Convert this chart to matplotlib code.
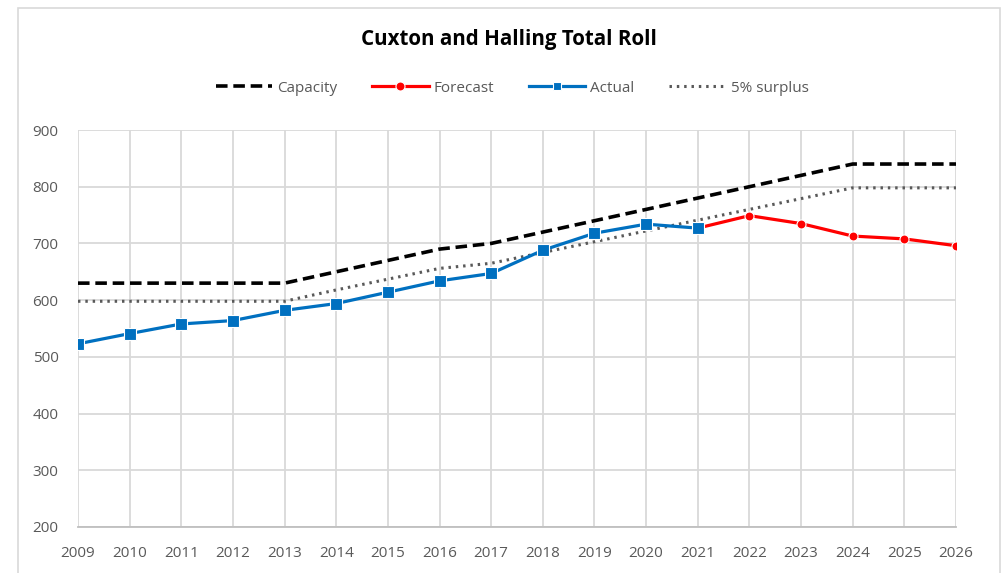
import matplotlib.pyplot as plt
from matplotlib.lines import Line2D
from matplotlib.patches import Rectangle

plt.rcParams['font.family'] = ['Open Sans', 'DejaVu Sans']

years = list(range(2009, 2027))
capacity = [630, 630, 630, 630, 630, 650, 670, 690, 700, 720, 740, 760, 780, 800, 820, 840, 840, 840]
surplus = [598, 598, 598, 598, 598, 618, 637, 656, 665, 684, 703, 722, 741, 760, 779, 798, 798, 798]
actual_years = list(range(2009, 2022))
actual = [523, 541, 558, 564, 582, 594, 614, 634, 647, 688, 718, 734, 727]
forecast_years = list(range(2021, 2027))
forecast = [727, 749, 735, 713, 708, 696]

blue = '#0070c0'
grey_txt = '#595959'

fig = plt.figure(figsize=(10.04, 5.73), dpi=100)
ax = fig.add_axes([78 / 1004, 1 - 527 / 573, (956 - 78) / 1004, (527 - 130) / 573])

# chart border like the Excel chart area
fig.patches.append(Rectangle((18 / 1004, -0.05), (1000 - 18) / 1004, 1 - 8 / 573 + 0.05,
                             transform=fig.transFigure, fill=False,
                             edgecolor='#d9d9d9', linewidth=1.2))

ax.plot(years, capacity, color='black', linestyle=(0, (3.2, 1.6)), linewidth=2.6, zorder=3)
ax.plot(forecast_years, forecast, color='red', linewidth=2.3, marker='o', markersize=6.5,
        markeredgecolor='white', markeredgewidth=0.8, zorder=4)
ax.plot(actual_years, actual, color=blue, linewidth=2.3, marker='s', markersize=8,
        markeredgecolor='white', markeredgewidth=0.8, zorder=5)
ax.plot(years, surplus, color=grey_txt, linestyle=(0, (0.8, 1.6)), linewidth=2.2, zorder=3)

ax.set_xlim(2009, 2026)
ax.set_ylim(200, 900)
ax.set_xticks(years)
ax.set_yticks(range(200, 901, 100))
ax.grid(True, color='#d9d9d9', linewidth=1.3)
ax.set_axisbelow(True)
for s in ax.spines.values():
    s.set_visible(False)
ax.spines['bottom'].set_visible(True)
ax.spines['bottom'].set_color('#bfbfbf')
ax.spines['bottom'].set_linewidth(1.3)
ax.tick_params(length=0, labelsize=11, labelcolor=grey_txt)
ax.tick_params(axis='x', pad=14)
ax.tick_params(axis='y', pad=14)

fig.text(0.507, 1 - 40 / 573, 'Cuxton and Halling Total Roll', ha='center', va='center',
         fontsize=14.8, fontweight='bold', color='black')

handles = [
    Line2D([], [], color='black', linestyle=(0, (3.2, 1.6)), linewidth=2.6),
    Line2D([], [], color='red', linewidth=2.3, marker='o', markersize=6.5,
           markeredgecolor='white', markeredgewidth=0.8, markevery=[1]),
    Line2D([], [], color=blue, linewidth=2.3, marker='s', markersize=6,
           markeredgecolor='white', markeredgewidth=0.8, markevery=[1]),
    Line2D([], [], color=grey_txt, linestyle=(0, (0.8, 1.6)), linewidth=2.2),
]
labels = ['Capacity', 'Forecast', 'Actual', '5% surplus']
for h in handles[1:3]:
    h.set_xdata([0, 0.5, 1])
    h.set_ydata([0, 0, 0])
fig.legend(handles, labels, loc='center', bbox_to_anchor=(0.51, 1 - 88 / 573), ncol=4,
           frameon=False, fontsize=11, labelcolor=grey_txt, handlelength=3.7,
           handletextpad=0.3, columnspacing=2.3)

fig.savefig('out.png', dpi=100)
